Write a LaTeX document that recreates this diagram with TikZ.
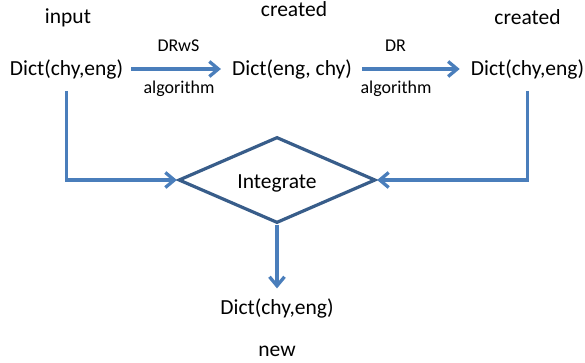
\documentclass[tikz,border=0pt]{standalone}
\usepackage{fontspec}
\setmainfont{Carlito}
\usetikzlibrary{arrows.meta,shapes.geometric}
\definecolor{conn}{HTML}{4A7EBB}
\definecolor{dia}{HTML}{385D8A}
\tikzset{
  big/.style={font=\fontsize{21.5}{24}\selectfont, inner sep=0pt, anchor=base},
  small/.style={font=\fontsize{18}{21}\selectfont, inner sep=0pt, anchor=base},
  conline/.style={draw=conn, line width=3.3pt},
  arr/.style={conline, -{Straight Barb[length=9pt,width=15pt,line width=3.3pt]}},
}
\begin{document}
\begin{tikzpicture}[x=1pt,y=-1pt]
\useasboundingbox (0,0) rectangle (585,362);
\node[big] (in) at (68,23.3) {input};
\node[big] (cr1) at (294,16.7) {created};
\node[big] (cr2) at (527.5,24) {created};
\node[big] (d1) at (66.5,75) {Dict(chy,eng)};
\node[big] (d2) at (292,75) {Dict(eng, chy)};
\node[big] (d3) at (527.5,75) {Dict(chy,eng)};
\node[small] (l1) at (178.5,51.7) {DRwS};
\node[small] (l2) at (179,93.3) {algorithm};
\node[small] (l3) at (395.5,51.7) {DR};
\node[small] (l4) at (396,93.3) {algorithm};
\node[draw=dia, line width=3.2pt, diamond, aspect=2.3, minimum width=197pt, minimum height=86pt, inner sep=0pt] (int) at (277,180) {};
\node[big] (intl) at (277,188.3) {Integrate};
\node[big] (d4) at (277,314.3) {Dict(chy,eng)};
\node[big] (nw) at (277,356.7) {new};
\coordinate (a1s) at (d1.east |- 0,69);
\coordinate (a1e) at (d2.west |- 0,69);
\coordinate (a2s) at (d2.east |- 0,69);
\coordinate (a2e) at (d3.west |- 0,69);
\draw[arr, shorten <=8pt, shorten >=11pt] (a1s) -- (a1e);
\draw[arr, shorten <=10pt, shorten >=11pt] (a2s) -- (a2e);
\draw[arr] ([yshift=-12pt]d1.south) |- (int.west);
\draw[arr] ([yshift=-12pt]d3.south) |- (int.east);
\draw[arr, shorten >=10pt] (int.south) -- (d4.north);
\end{tikzpicture}
\end{document}
